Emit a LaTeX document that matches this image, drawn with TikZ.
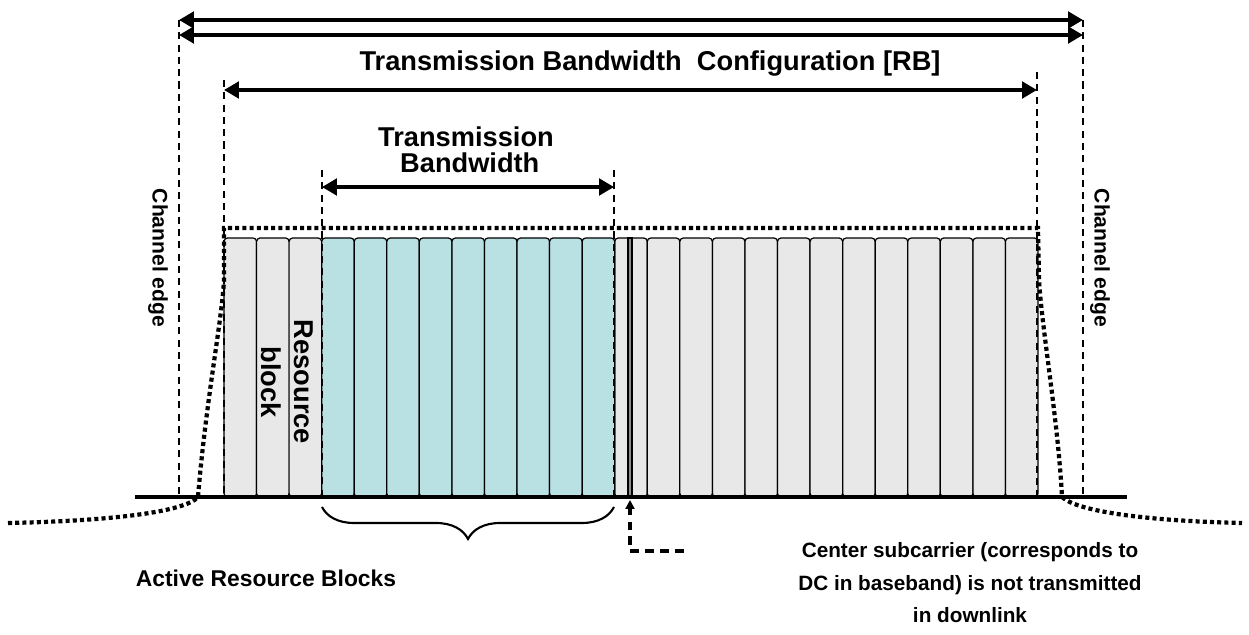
\documentclass[tikz,border=0pt]{standalone}
\usepackage{fontspec}
\setmainfont{Liberation Sans}
\usetikzlibrary{arrows.meta,decorations.pathreplacing}

\definecolor{rbgrey}{HTML}{E8E8E8}
\definecolor{rbteal}{HTML}{B9E0E3}

\tikzset{
    bwarrow/.style={line width=2.2pt,
        {Triangle[length=0.3cm,width=0.33cm]}-{Triangle[length=0.3cm,width=0.33cm]}},
    guide/.style={line width=1.1pt, dash pattern=on 4pt off 3pt},
    maskline/.style={line width=2.4pt, dash pattern=on 2.3pt off 1.8pt},
    rblock/.style={draw, line width=0.7pt, rounded corners=2pt},
    lbl/.style={font=\bfseries\fontsize{13}{15}\selectfont, align=center},
    biglbl/.style={lbl, font=\bfseries\fontsize{15.5}{15}\selectfont},
}

\begin{document}
\begin{tikzpicture}[x=0.02cm, y=-0.02cm]
    % the frame
    \useasboundingbox (0,0) rectangle (1249,635);

    % the resource blocks
    \foreach \i in {0,1,2,12,13,...,24} {
        \draw[rblock, fill=rbgrey] ({224+\i*32.56}, 238) rectangle ({224+(\i+1)*32.56}, 497);
    };
    \foreach \i in {3,...,11} {
        \draw[rblock, fill=rbteal] ({224+\i*32.56}, 238) rectangle ({224+(\i+1)*32.56}, 497);
    };
    % the centre subcarrier
    \draw[line width=0.7pt, fill=black!45] (628,238) rectangle (632,497);

    % the frequency axis
    \draw[line width=2pt] (135,497) -- (1127,497);

    % the spectrum mask
    \draw[maskline] (8,523) .. controls (110,521) and (185,512) .. (198,497)
        .. controls (206,400) and (222,320) .. (224,280) -- (224,228)
        -- (1038,228) -- (1039,280)
        .. controls (1042,330) and (1058,420) .. (1062,497)
        .. controls (1078,512) and (1150,521) .. (1242,523);

    % edges
    \coordinate (chTopL) at (179,20);
    \coordinate (chTopR) at (1083,20);
    \coordinate (chMidL) at (179,35);
    \coordinate (chMidR) at (1083,35);
    \coordinate (chBotL) at (179,497);
    \coordinate (chBotR) at (1083,497);
    \coordinate (tbcTopL) at (224,80);
    \coordinate (tbcTopR) at (1037,72);
    \coordinate (tbcL) at (224,90);
    \coordinate (tbcR) at (1037,90);
    \coordinate (tbcBotL) at (224,497);
    \coordinate (tbcBotR) at (1037,497);
    \coordinate (tbTopL) at (322,170);
    \coordinate (tbTopR) at (614,170);
    \coordinate (tbL) at (322,187);
    \coordinate (tbR) at (614,187);
    \coordinate (tbBotL) at (322,497);
    \coordinate (tbBotR) at (614,497);

    \draw[guide] (chTopL) -- (chBotL);
    \draw[guide] (chTopR) -- (chBotR);
    \draw[guide] (tbcTopL) -- (tbcBotL);
    \draw[guide] (tbcTopR) -- (tbcBotR);
    \draw[guide] (tbTopL) -- (tbBotL);
    \draw[guide] (tbTopR) -- (tbBotR);

    % bandwidth arrows
    \draw[bwarrow] (chTopL) -- (chTopR);
    \draw[bwarrow] (chMidL) -- (chMidR);
    \draw[bwarrow] (tbcL) -- (tbcR);
    \draw[bwarrow] (tbL) -- (tbR);

    % brace under the active blocks
    \draw[line width=1.2pt, decorate, decoration={brace, amplitude=0.64cm}]
        (614,507) -- (322,507);

    % pointer to the centre subcarrier
    \coordinate (dcTip) at (630,500);
    \coordinate (dcBend) at (630,551);
    \coordinate (dcEnd) at (684,551);
    \draw[line width=2pt, dash pattern=on 5pt off 3.5pt,
        -{Triangle[length=0.18cm,width=0.18cm]}] (dcEnd) -- (dcBend) -- (dcTip);

    % labels
    \node[biglbl] (tbcText) at (650,64) {Transmission Bandwidth\ \ Configuration [RB]};
    \node[biglbl] (tbText) at (466,150) {Transmission\\ \ Bandwidth};
    \node[lbl, rotate=-90, font=\bfseries\fontsize{12}{14}\selectfont] (edgeL) at (158,258) {Channel edge};
    \node[lbl, rotate=-90, font=\bfseries\fontsize{12}{14}\selectfont] (edgeR) at (1100,258) {Channel edge};
    \node[lbl, rotate=-90, font=\bfseries\fontsize{15.5}{19}\selectfont] (rbText) at (287,382) {Resource\\block};
    \node[lbl] (activeText) at (266,578) {Active Resource Blocks};
    \node[lbl, font=\bfseries\fontsize{11.8}{18.5}\selectfont] (dcText) at (970,583)
        {Center subcarrier (corresponds to\\DC in baseband) is not transmitted\\in downlink};
\end{tikzpicture}
\end{document}
